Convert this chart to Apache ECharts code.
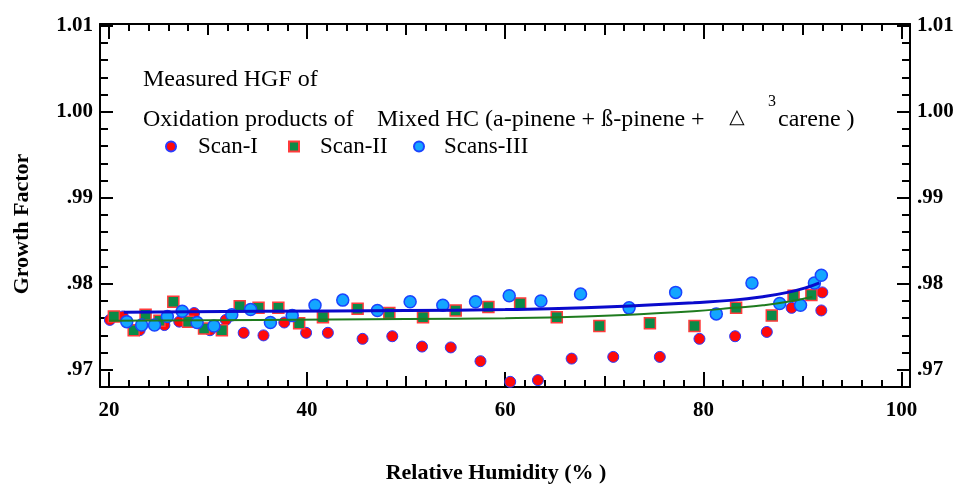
<!DOCTYPE html>
<html><head><meta charset="utf-8">
<script src="https://cdn.jsdelivr.net/npm/echarts@6/dist/echarts.min.js"></script>
<style>html,body{margin:0;padding:0;background:#fff}#c{width:962px;height:487px}</style>
</head><body><div id="c"></div>
<script>
// Scan-I (red circles)
const scan1X = [20.1,21.4,23.1,25.6,27.1,28.6,30.2,31.8,33.6,35.6,37.7,39.9,42.1,45.6,48.6,51.6,54.5,57.5,60.5,63.3,66.7,70.9,75.6,79.6,83.2,86.4,88.9,91.9,92.0];
const scan1Y = [.9758,.9762,.9746,.9752,.9756,.9766,.9746,.9758,.9743,.9740,.9755,.9743,.9743,.9736,.9739,.9727,.9726,.9710,.9686,.9688,.9713,.9715,.9715,.9736,.9739,.9744,.9772,.9769,.9790];
// Scan-II (green squares)
const scan2X = [20.5,22.5,23.7,25.1,26.5,28.0,29.6,31.4,33.2,35.1,37.1,39.2,41.6,45.1,48.3,51.7,55.0,58.3,61.5,65.2,69.5,74.6,79.1,83.3,86.9,89.1,90.9];
const scan2Y = [.9762,.9746,.9764,.9757,.9779,.9756,.9748,.9746,.9774,.9772,.9772,.9754,.9761,.9771,.9766,.9761,.9769,.9773,.9777,.9761,.9751,.9754,.9751,.9772,.9763,.9786,.9787];
// Scans-III (light blue circles)
const scan3X = [21.8,23.3,24.6,25.9,27.4,28.9,30.6,32.4,34.3,36.3,38.5,40.8,43.6,47.1,50.4,53.7,57.0,60.4,63.6,67.6,72.5,77.2,81.3,84.9,87.7,89.8,91.2,91.9];
const scan3Y = [.9756,.9752,.9752,.9762,.9768,.9755,.9751,.9764,.9770,.9755,.9763,.9775,.9781,.9769,.9779,.9775,.9779,.9786,.9780,.9788,.9772,.9790,.9765,.9801,.9777,.9775,.9801,.9810];
// Fit curves
const fitBlueX = [21.5,35,50,60,68,74,79,83,86,88.5,90.5,91.7];
const fitBlueY = [.9767,.9768,.9769,.9770,.9772,.9775,.9778,.9781,.9785,.9790,.9796,.9801];
const fitGreenX = [20,35,50,60,68,74,79,83,86,88.5,91];
const fitGreenY = [.9757,.9758,.9759,.9760,.9762,.9765,.9768,.9772,.9775,.9779,.9785];
// Ticks
const xLabelTicks = [20,40,60,80,100];
const xMidTicks = [30,50,70,90];
const xMinorTicks = [20,22,24,26,28,30,32,34,36,38,40,42,44,46,48,50,52,54,56,58,60,62,64,66,68,70,72,74,76,78,80,82,84,86,88,90,92,94,96,98,100];
const yLabelTicks = [0.97,0.98,0.99,1.00,1.01];
const yMinorTicks = [0.968,0.970,0.972,0.974,0.976,0.978,0.980,0.982,0.984,0.986,0.988,0.990,0.992,0.994,0.996,0.998,1.000,1.002,1.004,1.006,1.008,1.010];

const pairs = (xs, ys) => xs.map((x, i) => [x, ys[i]]);
const SERIF = '"Liberation Serif","Times New Roman",serif';
const XMIN = 19.1, XMAX = 100.85, YMIN = 0.968, YMAX = 1.0102;
const tickLine = {color:'#000', width:2};

function xAx(pos, ticks, len, showLine, showLabel) {
  return {
    type:'value', position:pos, min:XMIN, max:XMAX, gridIndex:0,
    axisLine:{show:showLine, onZero:false, lineStyle:{color:'#000', width:2}},
    axisTick:{show:true, inside:true, length:len, customValues:ticks, lineStyle:tickLine},
    axisLabel:{show:showLabel, customValues:xLabelTicks, margin:13, color:'#000',
      fontFamily:SERIF, fontWeight:'bold', fontSize:21},
    splitLine:{show:false}
  };
}
function yAx(pos, ticks, len, showLine, showLabel) {
  return {
    type:'value', position:pos, min:YMIN, max:YMAX, gridIndex:0,
    axisLine:{show:showLine, onZero:false, lineStyle:{color:'#000', width:2}},
    axisTick:{show:true, inside:true, length:len, customValues:ticks, lineStyle:tickLine},
    axisLabel:{show:showLabel, customValues:yLabelTicks, margin:7, color:'#000',
      fontFamily:SERIF, fontWeight:'bold', fontSize:21,
      formatter: v => { const s = (Math.round(v*100)/100).toFixed(2); return s.startsWith('0') ? s.slice(1) : s; }},
    splitLine:{show:false}
  };
}

const chart = echarts.init(document.getElementById('c'), null, {renderer:'canvas'});
const legendText = {fontFamily:SERIF, fontSize:23, color:'#000'};
chart.setOption({
  backgroundColor:'#fff',
  animation:false,
  grid:{left:100, right:52, top:24, bottom:100, containLabel:false},
  xAxis:[
    xAx('bottom', xLabelTicks, 15, true, true),
    xAx('bottom', xMidTicks, 11, false, false),
    xAx('bottom', xMinorTicks, 7, false, false),
    xAx('top', xLabelTicks, 15, true, false),
    xAx('top', xMidTicks, 11, false, false),
    xAx('top', xMinorTicks, 7, false, false)
  ],
  yAxis:[
    yAx('left', yLabelTicks, 13, true, true),
    yAx('left', yMinorTicks, 8, false, false),
    yAx('right', yLabelTicks, 13, true, true),
    yAx('right', yMinorTicks, 8, false, false)
  ],
  legend:[
    {data:['Scan-I'], left:165, top:135, padding:0, itemWidth:10, itemHeight:10, icon:'circle',
      textStyle:Object.assign({padding:[0,0,0,17]}, legendText)},
    {data:['Scan-II'], left:288, top:135, padding:0, itemWidth:10, itemHeight:10, icon:'rect',
      textStyle:Object.assign({padding:[0,0,0,16]}, legendText)},
    {data:['Scans-III'], left:413, top:135, padding:0, itemWidth:10, itemHeight:10, icon:'circle',
      textStyle:Object.assign({padding:[0,0,0,15]}, legendText)}
  ],
  graphic:[
    {type:'text', x:143, y:80, style:{text:'Measured HGF of', font:'24px ' + SERIF, fill:'#000', verticalAlign:'middle'}},
    {type:'text', x:143, y:120, style:{text:'Oxidation products of', font:'24px ' + SERIF, fill:'#000', verticalAlign:'middle'}},
    {type:'text', x:377, y:120, style:{text:'Mixed HC (a-pinene + ß-pinene +', font:'24px ' + SERIF, fill:'#000', verticalAlign:'middle'}},
    {type:'text', x:737, y:118, style:{text:'△', font:'20px "DejaVu Sans"', fill:'#000', align:'center', verticalAlign:'middle'}},
    {type:'text', x:768, y:102, style:{text:'3', font:'16px ' + SERIF, fill:'#000', verticalAlign:'middle'}},
    {type:'text', x:778, y:120, style:{text:'carene )', font:'24px ' + SERIF, fill:'#000', verticalAlign:'middle'}},
    {type:'text', x:496, y:473, style:{text:'Relative Humidity (% )', font:'bold 22px ' + SERIF, fill:'#000', align:'center', verticalAlign:'middle'}},
    {type:'text', x:22, y:224, rotation:Math.PI/2, style:{text:'Growth Factor', font:'bold 22px ' + SERIF, fill:'#000', align:'center', verticalAlign:'middle'}}
  ],
  series:[
    {name:'Scan-I', type:'scatter', xAxisIndex:0, yAxisIndex:0, symbol:'circle', symbolSize:11, z:2,
      itemStyle:{color:'#FF0A0A', borderColor:'#2A3CFF', borderWidth:1, opacity:1},
      data:pairs(scan1X, scan1Y)},
    {name:'Scan-II', type:'scatter', xAxisIndex:0, yAxisIndex:0, symbol:'rect', symbolSize:11, z:3,
      itemStyle:{color:'#0B8A47', borderColor:'#FF3B3B', borderWidth:1.5, opacity:1},
      data:pairs(scan2X, scan2Y)},
    {name:'Scans-III', type:'scatter', xAxisIndex:0, yAxisIndex:0, symbol:'circle', symbolSize:12, z:4,
      itemStyle:{color:'#14A6FF', borderColor:'#1A44FF', borderWidth:1.5, opacity:1},
      data:pairs(scan3X, scan3Y)},
    {name:'fitGreen', type:'line', xAxisIndex:0, yAxisIndex:0, smooth:0.5, showSymbol:false, symbol:'none', z:5,
      lineStyle:{color:'#1E7B1E', width:2}, data:pairs(fitGreenX, fitGreenY)},
    {name:'fitBlue', type:'line', xAxisIndex:0, yAxisIndex:0, smooth:0.5, showSymbol:false, symbol:'none', z:6,
      lineStyle:{color:'#0A0ACC', width:3}, data:pairs(fitBlueX, fitBlueY)}
  ]
});
</script></body></html>
